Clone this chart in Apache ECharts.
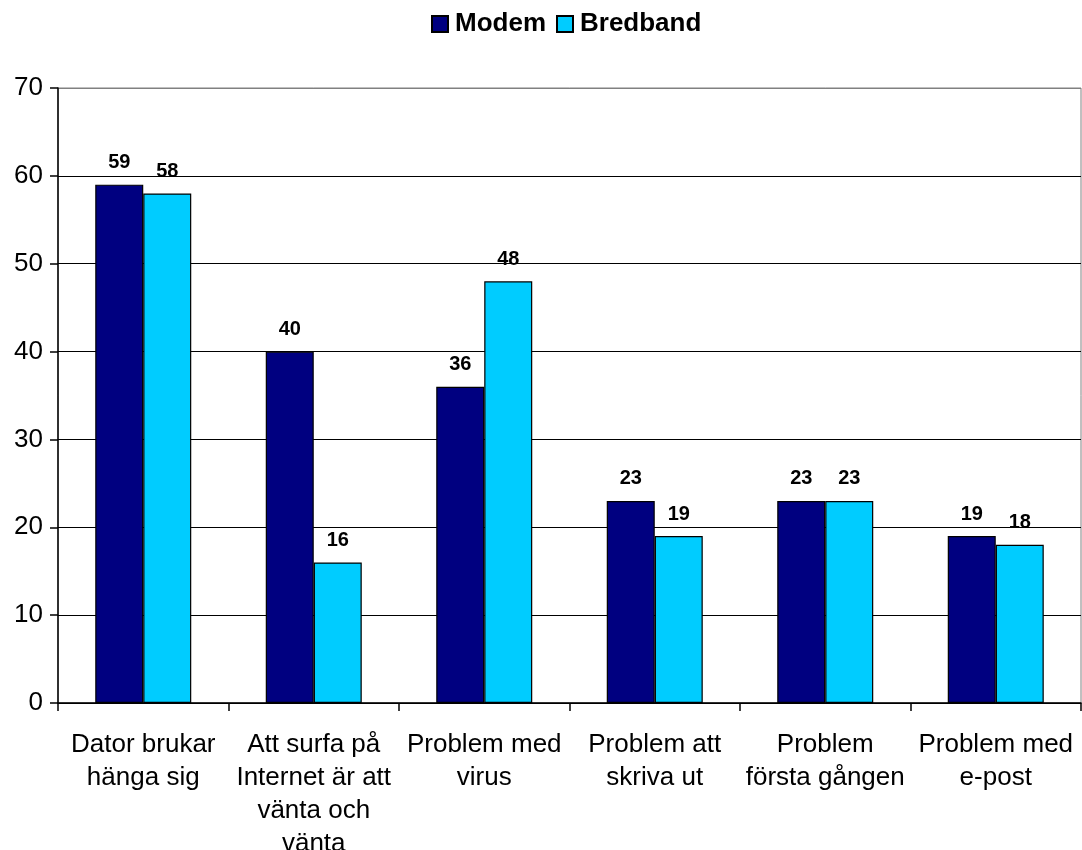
<!DOCTYPE html>
<html><head><meta charset="utf-8">
<script src="https://cdn.jsdelivr.net/npm/echarts@6/dist/echarts.min.js"></script>
<style>html,body{margin:0;padding:0;background:#fff}#c{width:1082px;height:850px}</style>
</head><body><div id="c"></div>
<script>
const categories = ["Dator brukar\nhänga sig", "Att surfa på\nInternet är att\nvänta och\nvänta", "Problem med\nvirus", "Problem att\nskriva ut", "Problem\nförsta gången", "Problem med\ne-post"];
const modem = [59, 40, 36, 23, 23, 19];
const bredband = [58, 16, 48, 19, 23, 18];
const yTicks = [0, 10, 20, 30, 40, 50, 60, 70];

const chart = echarts.init(document.getElementById('c'), null, {renderer: 'canvas'});
const ff = 'Liberation Sans, Arial, sans-serif';
const lbl = {show: true, position: 'top', distance: 12, color: '#000', fontFamily: ff, fontWeight: 'bold', fontSize: 20};
chart.setOption({
  animation: false,
  legend: {
    top: 6, left: 426, itemWidth: 16, itemHeight: 16, itemGap: 10,
    icon: 'rect',
    textStyle: {fontFamily: ff, fontWeight: 'bold', fontSize: 26, color: '#000', padding: [0,0,0,2]},
    data: ['Modem', 'Bredband']
  },
  grid: {left: 58, right: 1, top: 88, bottom: 147, outerBoundsMode: 'none', containLabel: false,
         show: true, borderColor: '#808080', borderWidth: 1},
  xAxis: {
    type: 'category', data: categories,
    axisLine: {lineStyle: {color: '#000', width: 1.5}},
    axisTick: {show: true, length: 8, lineStyle: {color: '#000', width: 1.5}},
    axisLabel: {fontFamily: ff, fontSize: 26, color: '#000', margin: 25, lineHeight: 33, interval: 0}
  },
  yAxis: {
    type: 'value', min: yTicks[0], max: yTicks[yTicks.length - 1], interval: 10,
    axisLine: {show: true, lineStyle: {color: '#000', width: 1.5}},
    axisTick: {show: true, length: 8, lineStyle: {color: '#000', width: 1.5}},
    axisLabel: {fontFamily: ff, fontSize: 26, color: '#000', margin: 15},
    splitLine: {lineStyle: {color: ['#000','#000','#000','#000','#000','#000','#000','#808080'], width: 1.2}}
  },
  series: [
    {name: 'Modem', type: 'bar', data: modem, barWidth: 48, barGap: '0%',
     itemStyle: {color: '#000080', borderColor: '#000', borderWidth: 1.2}, label: lbl},
    {name: 'Bredband', type: 'bar', data: bredband, barWidth: 48, barGap: '0%',
     itemStyle: {color: '#00CCFF', borderColor: '#000', borderWidth: 1.2}, label: lbl}
  ]
});
</script></body></html>
